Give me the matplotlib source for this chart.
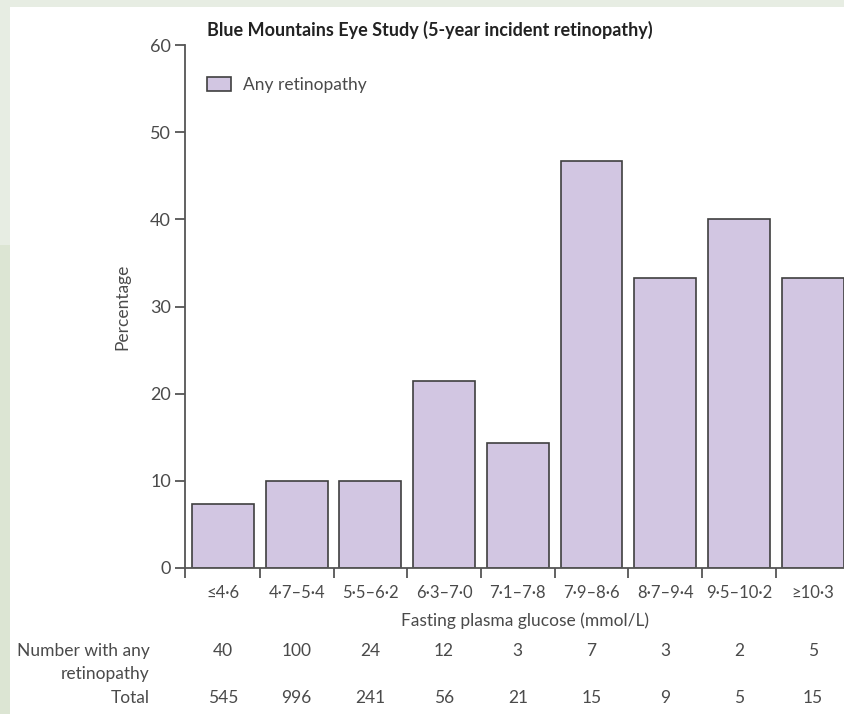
import matplotlib.pyplot as plt
from matplotlib.patches import Rectangle, Patch

plt.rcParams['font.family'] = ['Lato', 'DejaVu Sans']

# Fasting plasma glucose bands and 5-year incidence of any retinopathy
glucose_bands = ['≤4·6', '4·7–5·4', '5·5–6·2', '6·3–7·0', '7·1–7·8',
                 '7·9–8·6', '8·7–9·4', '9·5–10·2', '≥10·3']
percent_any = [7.3, 10.0, 10.0, 21.4, 14.3, 46.7, 33.3, 40.0, 33.3]
number_any = [40, 100, 24, 12, 3, 7, 3, 2, 5]
number_total = [545, 996, 241, 56, 21, 15, 9, 5, 15]

W, H = 845, 714
fig = plt.figure(figsize=(W / 100, H / 100), dpi=100)
fig.patch.set_facecolor('white')

# pale page margins
fig.add_artist(Rectangle((0, 1 - 7 / H), 1, 7 / H, transform=fig.transFigure,
                         facecolor='#e7ede3', edgecolor='none', zorder=0))
fig.add_artist(Rectangle((0, 0), 10 / W, 1, transform=fig.transFigure,
                         facecolor='#e7ede3', edgecolor='none', zorder=0))
fig.add_artist(Rectangle((0, 0), 10 / W, 1 - 245 / H, transform=fig.transFigure,
                         facecolor='#dce5d3', edgecolor='none', zorder=0))

ax = fig.add_axes([185 / W, 1 - 568 / H, 1 - 185 / W, (568 - 45) / H])
ax.set_facecolor('none')

text_col = '#4a4a4a'
fs = 12.5
x = list(range(len(glucose_bands)))
ax.bar(x, percent_any, width=0.84, color='#d2c6e2', edgecolor='#3f3f3f',
       linewidth=1.2, zorder=2, label='Any retinopathy')

xmin = -0.516
ax.set_xlim(xmin, (W - 223) / 73.7)
ax.set_ylim(0, 60)

for s in ['top', 'right']:
    ax.spines[s].set_visible(False)
for s in ['left', 'bottom']:
    ax.spines[s].set_color('#555555')
    ax.spines[s].set_linewidth(1.3)

ax.set_yticks(range(0, 61, 10))
ax.tick_params(axis='y', direction='out', length=7, width=1.3, color='#555555',
               labelsize=13, labelcolor=text_col, pad=3)
ax.set_xticks([xmin] + [i + 0.5 for i in range(len(glucose_bands) - 1)])
ax.set_xticklabels([])
ax.tick_params(axis='x', direction='out', length=7, width=1.3, color='#555555')

for i, lab in enumerate(glucose_bands):
    ax.text(i, -2.85, lab, ha='center', va='center', fontsize=12,
            color=text_col, clip_on=False)

ax.set_ylabel('Percentage', fontsize=fs, color=text_col, labelpad=14)

fig.text(525 / W, 1 - 621 / H, 'Fasting plasma glucose (mmol/L)', ha='center',
         va='center', fontsize=fs, color=text_col)

fig.text(207 / W, 1 - 30 / H,
         'Blue Mountains Eye Study (5-year incident retinopathy)',
         ha='left', va='center', fontsize=13, fontweight='bold', color='#222222')

leg = ax.legend(handles=[Patch(facecolor='#d2c6e2', edgecolor='#3f3f3f',
                               linewidth=1.2, label='Any retinopathy')],
                loc='upper left', bbox_to_anchor=(22 / (W - 185), 1 - 32 / 523),
                frameon=False, fontsize=fs, handlelength=1.4, handleheight=0.8,
                handletextpad=0.7, borderaxespad=0, borderpad=0)
for t in leg.get_texts():
    t.set_color(text_col)

# counts table under the axis
row_y = [651, 698]
fig.text(150 / W, 1 - 651 / H, 'Number with any', ha='right', va='center',
         fontsize=fs, color=text_col)
fig.text(150 / W, 1 - 674 / H, 'retinopathy', ha='right', va='center',
         fontsize=fs, color=text_col)
fig.text(150 / W, 1 - 698 / H, 'Total', ha='right', va='center',
         fontsize=fs, color=text_col)
for i in x:
    xf = ax.transData.transform((i, 0))[0] / W
    fig.text(xf, 1 - row_y[0] / H, str(number_any[i]), ha='center', va='center',
             fontsize=fs, color=text_col)
    fig.text(xf, 1 - row_y[1] / H, str(number_total[i]), ha='center', va='center',
             fontsize=fs, color=text_col)

fig.savefig('out.png', dpi=100)
